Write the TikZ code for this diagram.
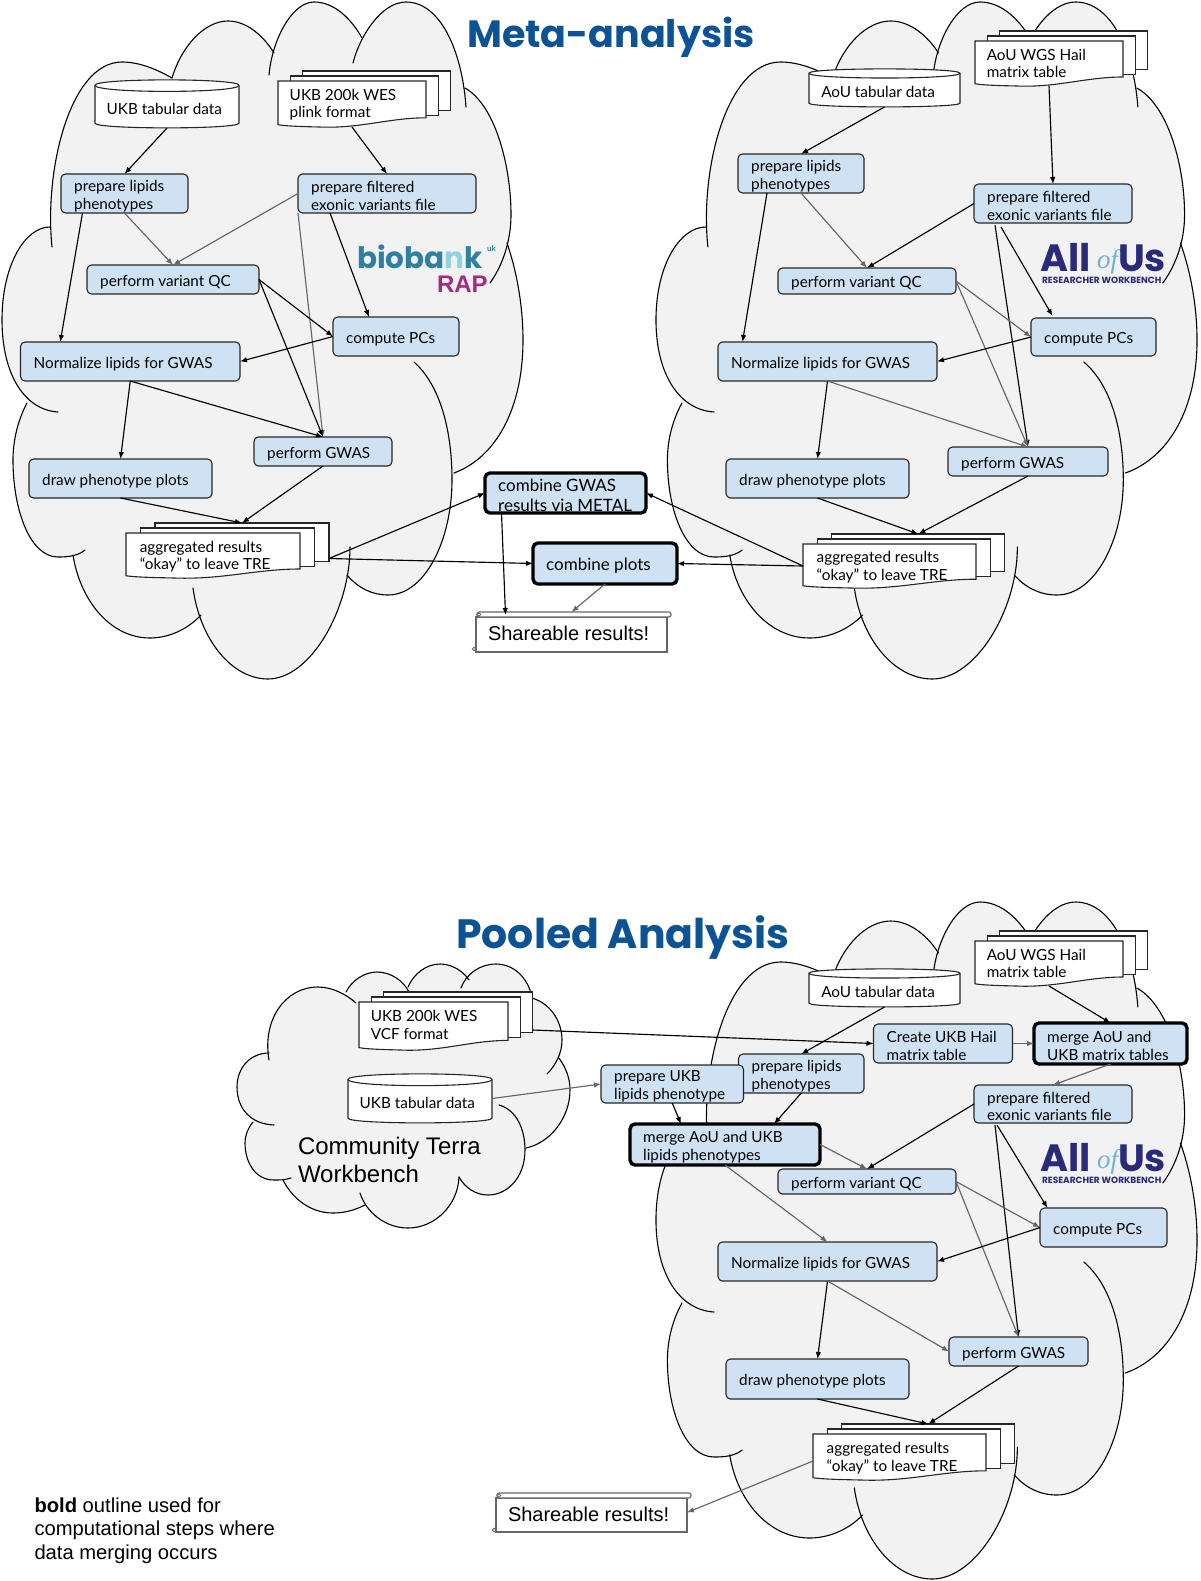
\documentclass[tikz,border=0pt]{standalone}
\usepackage{fontspec}
\usepackage{xcolor}
\usetikzlibrary{arrows.meta}
\setmainfont{Lato}
\newfontfamily\notefont{Liberation Sans}
\newfontfamily\titlefont{Poppins}
\newfontfamily\ofifont{Liberation Serif}
\definecolor{boxblue}{HTML}{CFE2F3}
\definecolor{cloudgrey}{HTML}{F2F2F2}
\definecolor{arrowgrey}{HTML}{666666}
\definecolor{titleblue}{HTML}{0B5394}
\definecolor{biobankteal}{HTML}{2F7FA3}
\definecolor{biobanklight}{HTML}{8FD3E0}
\definecolor{rapmagenta}{HTML}{A62A7E}
\definecolor{allofusnavy}{HTML}{2A2A78}
\definecolor{ofblue}{HTML}{6FB3DD}
\tikzset{
  cloudline/.style={line width=1.1pt, draw=black, line cap=round},
  cloudbg/.style={fill=cloudgrey},
  procstep/.style={draw=black!85, fill=boxblue, line width=1.1pt, rounded corners=4.5pt, anchor=north west,
    inner sep=0pt, outer sep=0pt},
  mergestep/.style={line width=3.4pt, draw=black, rounded corners=5pt},
  sheet/.style={draw=black!85, fill=white, line width=1.1pt, anchor=north west, inner sep=0pt, outer sep=0pt},
  hole/.style={inner sep=0pt, outer sep=0pt},
  inktext/.style={anchor=north west, align=left, inner sep=0pt, font=\fontsize{15.3}{17.7}\selectfont},
  steptext/.style={inktext, anchor=west},
  flowB/.style={-{Latex[length=7pt,width=5.5pt]}, line width=1.15pt, draw=black},
  flowG/.style={-{Latex[length=7pt,width=5.5pt]}, line width=1.15pt, draw=arrowgrey},
  scrollline/.style={draw=arrowgrey, fill=white, line width=1.1pt},
  heading/.style={anchor=base west, inner sep=0pt, text=titleblue}
}
% lobes of the large cloud
\def\lobeA{(52,247) .. controls (44,170) and (70,62) .. (122,62) .. controls (140,62) and (158,70) .. (172,78)}
\def\lobeB{(172,78) .. controls (182,45) and (205,21) .. (228,21) .. controls (248,21) and (265,38) .. (274,53)}
\def\lobeC{(269,75) .. controls (272,40) and (292,2) .. (314,2) .. controls (335,2) and (352,20) .. (362,38)}
\def\lobeD{(353,63) .. controls (360,35) and (382,2) .. (406,2) .. controls (440,2) and (462,50) .. (466,107)}
\def\lobeE{(465,88) .. controls (495,105) and (511,165) .. (511,215) .. controls (511,240) and (503,265) .. (490,283)}
\def\lobeF{(507,243) .. controls (518,275) and (523,310) .. (523,340) .. controls (523,410) and (495,458) .. (454,473)}
\def\lobeG{(414,362) .. controls (440,385) and (452,430) .. (452,480) .. controls (452,540) and (425,595) .. (388,595) .. controls (372,595) and (358,588) .. (347,575)}
\def\lobeH{(350,547) .. controls (350,610) and (310,679) .. (268,679) .. controls (232,679) and (200,640) .. (193,588)}
\def\lobeI{(201,615) .. controls (187,630) and (168,638) .. (150,638) .. controls (110,638) and (80,600) .. (73,555)}
\def\lobeJ{(85,550) .. controls (78,556) and (68,557) .. (58,557) .. controls (30,557) and (13,510) .. (13,460) .. controls (13,440) and (18,420) .. (27,403)}
\def\lobeK{(58,412) .. controls (25,410) and (2,375) .. (2,320) .. controls (2,265) and (25,227) .. (50,227)}
% lobes of the small cloud
\def\puffA{(274,1125) .. controls (250,1124) and (237,1108) .. (237,1087) .. controls (237,1068) and (250,1053) .. (269,1053)}
\def\puffB{(269,1060) .. controls (262,1020) and (285,987) .. (318,987) .. controls (333,987) and (347,995) .. (356,1003)}
\def\puffC{(346,992) .. controls (352,980) and (365,972) .. (377,972) .. controls (390,972) and (403,980) .. (409,992)}
\def\puffD{(408,987) .. controls (414,973) and (427,964) .. (440,964) .. controls (452,964) and (463,971) .. (469,980)}
\def\puffE{(461,988) .. controls (466,974) and (480,964) .. (496,964) .. controls (514,964) and (528,978) .. (532,997)}
\def\puffF{(532,998) .. controls (552,1004) and (562,1023) .. (562,1040) .. controls (562,1053) and (556,1065) .. (547,1074)}
\def\puffG{(559,1058) .. controls (566,1068) and (570,1078) .. (570,1090) .. controls (570,1118) and (550,1143) .. (526,1148)}
\def\puffH{(499,1105) .. controls (517,1110) and (525,1130) .. (525,1150) .. controls (525,1178) and (507,1195) .. (488,1195) .. controls (476,1195) and (465,1188) .. (459,1177)}
\def\puffI{(459,1177) .. controls (458,1205) and (435,1228) .. (408,1228) .. controls (385,1228) and (366,1212) .. (360,1193)}
\def\puffJ{(365,1205) .. controls (355,1210) and (345,1213) .. (333,1213) .. controls (310,1213) and (292,1198) .. (283,1180)}
\def\puffK{(291,1178) .. controls (285,1180) and (280,1180) .. (274,1180) .. controls (255,1180) and (245,1162) .. (245,1143) .. controls (245,1135) and (248,1128) .. (253,1122)}
\newcommand{\bigcloud}[3]{%
  \begin{scope}[shift={(#1,#2)},xscale=#3]
    \fill[cloudbg] \lobeA -- cycle \lobeB -- cycle \lobeC -- cycle \lobeD -- cycle \lobeE -- cycle \lobeF -- cycle
      \lobeG -- cycle \lobeH -- cycle \lobeI -- cycle \lobeJ -- cycle \lobeK -- cycle
      (50,227) -- (100,110) -- (172,78) -- (228,35) -- (272,53) -- (315,15) -- (358,42) -- (410,20) -- (466,90)
      -- (495,180) -- (503,255) -- (515,350) -- (456,470) -- (430,540) -- (347,575) -- (268,660) -- (197,608)
      -- (140,625) -- (77,556) -- (30,480) -- (27,403) -- (15,320) -- cycle;
    \foreach \lobe in {\lobeA,\lobeB,\lobeC,\lobeD,\lobeE,\lobeF,\lobeG,\lobeH,\lobeI,\lobeJ,\lobeK}
      \draw[cloudline] \lobe;
  \end{scope}}
% rounded process box: name, x, y, w, h, text
\newcommand{\procbox}[7][]{%
  \node[procstep, minimum width=#5pt, minimum height=#6pt, #1] (#2) at (#3,#4) {};
  \node[steptext, name=#2-t] at ({#3+13},{#4+#6/2+2.5}) {#7};}
% stack of three pages: name, x, y, w, h, text
\newcommand{\docstack}[6]{%
  \pgfmathsetmacro{\stepx}{#4/12}%
  \pgfmathsetmacro{\sheeth}{#5*0.85}%
  \node[sheet, minimum width=#4pt, minimum height=\sheeth pt] (#1-b) at ({#2+2*\stepx},#3-10) {};
  \node[sheet, minimum width=#4pt, minimum height=\sheeth pt] (#1-m) at ({#2+\stepx},#3-5) {};
  \begin{scope}[shift={(#2,#3)},x=#4pt,y=-#5pt]
    \draw[sheet] (0,0) -- (1,0) -- (1,.8) .. controls (.75,.8) and (.55,1.04) .. (.28,1) .. controls (.15,.99) and (.05,.98) .. (0,.95) -- cycle;
    \node[hole, minimum width=#4pt, minimum height=#5pt] (#1) at (.5,.5) {};
    \node[inktext, name=#1-t] at (.078,.17) {#6};
  \end{scope}}
% drum for tabular data: name, x, y, w, h, text
\newcommand{\datadrum}[6]{%
  \begin{scope}[shift={(#2,#3)},x=#4pt,y=-#5pt]
    \draw[sheet] (0,.11) .. controls (0,-.04) and (1,-.04) .. (1,.11) -- (1,.9) .. controls (1,1.03) and (0,1.03) .. (0,.9) -- cycle;
    \draw[sheet] (0,.11) .. controls (0,.28) and (1,.28) .. (1,.11);
    \node[hole, minimum width=#4pt, minimum height=#5pt] (#1) at (.5,.5) {};
    \node[inktext, anchor=west, name=#1-t] at (.08,.6) {#6};
  \end{scope}}
% scroll: name, x, y, w, h
\newcommand{\scrollnote}[5]{%
  \begin{scope}[shift={(#2,#3)}]
    \draw[scrollline] (0,5) rectangle (#4,#5);
    \draw[scrollline, rounded corners=2pt] (1,0) rectangle ({#4+4},5);
    \draw[scrollline, line width=.8pt] (3,2.5) circle (1.8);
    \draw[scrollline, line width=.8pt] (-2,37) circle (1.8);
    \node[hole, minimum width=#4pt, minimum height=#5pt] (#1) at ({#4/2},{#5/2}) {};
    \node[hole, anchor=west, font=\notefont\fontsize{20}{20}\selectfont, name=#1-t] at (12,21) {Shareable results!};
  \end{scope}}
\newcommand{\biobanklogo}{%
  \node[hole, anchor=base west, text=biobankteal, font=\titlefont\bfseries\fontsize{29.5}{30}\selectfont] (biobankword) at (357,268) {bioba\textcolor{biobanklight}{n}k};
  \node[hole, anchor=base west, text=biobankteal, font=\bfseries\fontsize{8}{8}\selectfont] (biobankuk) at (487,251) {uk};
  \node[hole, anchor=base west, text=rapmagenta, font=\notefont\bfseries\fontsize{24}{24}\selectfont] (rapword) at (437,292) {RAP};}
\newcommand{\allofuslogo}[1]{%
  \begin{scope}[shift={(0,#1)}]
    \node[hole, anchor=base west, text=allofusnavy, font=\titlefont\bfseries\fontsize{38}{38}\selectfont] (allword#1) at (1040,271) {All};
    \node[hole, anchor=base west, text=ofblue, font=\ofifont\itshape\fontsize{27}{27}\selectfont] (ofword#1) at (1097,268) {of};
    \node[hole, anchor=base west, text=allofusnavy, font=\titlefont\bfseries\fontsize{38}{38}\selectfont] (usword#1) at (1118,271) {Us};
    \node[hole, anchor=base west, text=allofusnavy, font=\titlefont\bfseries\fontsize{9}{9}\selectfont] (rwword#1) at (1042,283) {RESEARCHER WORKBENCH};
  \end{scope}}

\begin{document}
\begin{tikzpicture}[x=1pt,y=-1pt]
  \useasboundingbox (0,0) rectangle (1200,1581);

  \bigcloud{0}{0}{1}
  \bigcloud{653.9}{0}{1.0385}
  \bigcloud{653.9}{900}{1.0385}

  % small cloud
  \fill[cloudbg] \puffA -- cycle \puffB -- cycle \puffC -- cycle \puffD -- cycle \puffE -- cycle \puffF -- cycle
    \puffG -- cycle \puffH -- cycle \puffI -- cycle \puffJ -- cycle \puffK -- cycle
    (269,1053) -- (310,995) -- (346,995) -- (377,980) -- (408,988) -- (440,972) -- (465,980) -- (496,972) -- (532,997)
    -- (552,1040) -- (553,1070) -- (560,1100) -- (526,1148) -- (500,1180) -- (459,1177) -- (408,1218) -- (365,1205)
    -- (325,1205) -- (287,1180) -- (255,1150) -- (253,1122) -- (245,1087) -- cycle;
  \foreach \lobe in {\puffA,\puffB,\puffC,\puffD,\puffE,\puffF,\puffG,\puffH,\puffI,\puffJ,\puffK}
    \draw[cloudline] \lobe;

  \node[heading, font=\titlefont\bfseries\fontsize{38}{38}\selectfont] (metatitle) at (467,48) {Meta-analysis};
  \node[heading, font=\titlefont\bfseries\fontsize{41}{41}\selectfont] (pooledtitle) at (456,948) {Pooled Analysis};

  \biobanklogo
  \allofuslogo{0}
  \allofuslogo{900}

  % meta-analysis, UK Biobank
  \datadrum{ukbdata}{95}{80}{144}{48}{UKB tabular data}
  \docstack{ukbwes}{278}{81}{148}{46}{UKB 200k WES\\plink format}
  \procbox{ukblip}{61}{174}{127}{39}{prepare lipids\\phenotypes}
  \procbox{ukbfilt}{298}{174}{178}{39}{prepare filtered\\exonic variants file}
  \procbox{ukbqc}{87}{265}{172}{29}{perform variant QC}
  \procbox{ukbpcs}{333}{317}{126}{39}{compute PCs}
  \procbox{ukbnorm}{20.5}{342}{219.5}{39}{Normalize lipids for GWAS}
  \procbox{ukbgwas}{254}{437}{138}{29}{perform GWAS}
  \procbox{ukbdraw}{29}{459}{183}{39}{draw phenotype plots}
  \docstack{ukbagg}{126}{533}{174}{45}{aggregated results\\``okay'' to leave TRE}

  % meta-analysis, All of Us
  \datadrum{aoudata}{809}{69}{151}{38}{AoU tabular data}
  \docstack{aouwgs}{975}{41}{148}{45}{AoU WGS Hail\\matrix table}
  \procbox{aoulip}{738}{154}{126}{39}{prepare lipids\\phenotypes}
  \procbox{aoufilt}{974}{184}{158}{39}{prepare filtered\\exonic variants file}
  \procbox{aouqc}{778}{268}{178}{26}{perform variant QC}
  \procbox{aoupcs}{1031}{318}{125}{38}{compute PCs}
  \procbox{aounorm}{718}{342}{219}{39}{Normalize lipids for GWAS}
  \procbox{aougwas}{948}{447}{160}{29}{perform GWAS}
  \procbox{aoudraw}{726}{459}{183}{39}{draw phenotype plots}
  \docstack{aouagg}{803}{544}{173}{44}{aggregated results\\``okay'' to leave TRE}

  % combining steps
  \begin{scope}[steptext/.append style={font=\fontsize{17}{20}\selectfont}]
    \procbox[mergestep]{metal}{485}{473}{161}{40}{combine GWAS\\results via METAL}
    \procbox[mergestep]{plots}{533}{543}{144}{41}{combine plots}
  \end{scope}
  \scrollnote{sharemeta}{476}{612}{191}{40}

  \draw[flowB] (ukbdata.south) -- (ukblip.north);
  \draw[flowB] (ukbwes.south) -- (ukbfilt.north);
  \draw[flowG] (ukblip.south) -- (ukbqc.north);
  \draw[flowG] (ukbfilt.west) -- (ukbqc.north);
  \draw[flowB] ([xshift=-42pt]ukblip.south) -- ([xshift=-70pt]ukbnorm.north);
  \draw[flowB] ([xshift=-57pt]ukbfilt.south) -- ([xshift=-27pt]ukbpcs.north);
  \draw[flowG] (ukbfilt.south west) -- (ukbgwas.north);
  \draw[flowB] (ukbqc.east) -- (ukbpcs.west);
  \draw[flowB] (ukbqc.east) -- (ukbgwas.north);
  \draw[flowB] (ukbpcs.west) -- (ukbnorm.east);
  \draw[flowB] (ukbnorm.south) -- (ukbdraw.north);
  \draw[flowB] (ukbnorm.south) -- (ukbgwas.north);
  \draw[flowB] (ukbdraw.south) -- (ukbagg-b.north);
  \draw[flowB] (ukbgwas.south) -- (ukbagg-b.north);
  \draw[flowB] ([yshift=-3pt]ukbagg-b.east |- ukbagg.east) -- (metal.west);
  \draw[flowB] ([yshift=-3pt]ukbagg-b.east |- ukbagg.east) -- (plots.west);
  \draw[flowG] (plots.south) -- (sharemeta.north);
  \draw[flowB] ([xshift=-64pt]metal.south) -- ([xshift=-66pt,yshift=-3pt]sharemeta.north);

  \draw[flowB] (aoudata.south) -- (aoulip.north);
  \draw[flowB] (aouwgs.south) -- (aoufilt.north);
  \draw[flowG] (aoulip.south) -- (aouqc.north);
  \draw[flowB] ([xshift=-34pt]aoulip.south) -- ([xshift=-85pt]aounorm.north);
  \draw[flowB] (aoufilt.west) -- (aouqc.north);
  \draw[flowB] ([xshift=-52pt,yshift=-4pt]aoufilt.south) -- ([xshift=-41pt,yshift=2pt]aoupcs.north);
  \draw[flowB] ([xshift=-58pt,yshift=-2pt]aoufilt.south) -- (aougwas.north);
  \draw[flowG] (aouqc.east) -- (aoupcs.west);
  \draw[flowG] (aouqc.east) -- (aougwas.north);
  \draw[flowB] (aoupcs.west) -- (aounorm.east);
  \draw[flowB] (aounorm.south) -- (aoudraw.north);
  \draw[flowG] (aounorm.south) -- (aougwas.north);
  \draw[flowB] (aoudraw.south) -- (aouagg-b.north);
  \draw[flowB] (aougwas.south) -- (aouagg-b.north);
  \draw[flowB] (aouagg.west) -- (metal.east);
  \draw[flowB] (aouagg.west) -- (plots.east);

  % pooled analysis
  \datadrum{pooldata}{809}{969}{151}{38}{AoU tabular data}
  \docstack{poolwgs}{975}{941}{148}{45}{AoU WGS Hail\\matrix table}
  \docstack{termwes}{359}{1002}{149}{48}{UKB 200k WES\\VCF format}
  \datadrum{termdata}{348}{1074}{144}{49}{UKB tabular data}
  \node[hole, anchor=north west, align=left, font=\notefont\fontsize{24}{27.5}\selectfont] (termname) at (298,1137.5) {Community Terra\\Workbench};
  \procbox{hailbox}{873.5}{1024}{139}{39}{Create UKB Hail\\matrix table}
  \procbox[mergestep]{mergemt}{1034}{1023}{153}{41}{merge AoU and\\UKB matrix tables}
  \procbox{poollip}{738.5}{1054}{125.5}{39}{prepare lipids\\phenotypes}
  \procbox{ukbpheno}{601}{1065}{142.5}{38}{prepare UKB\\lipids phenotype}
  \procbox[mergestep]{mergelip}{630}{1124}{190}{41}{merge AoU and UKB\\lipids phenotypes}
  \procbox{poolfilt}{974}{1085}{158}{38}{prepare filtered\\exonic variants file}
  \procbox{poolqc}{778}{1169}{178}{25}{perform variant QC}
  \procbox{poolpcs}{1040}{1208}{127}{39}{compute PCs}
  \procbox{poolnorm}{718}{1242}{219}{39}{Normalize lipids for GWAS}
  \procbox{poolgwas}{949}{1337}{139}{29}{perform GWAS}
  \procbox{pooldraw}{726}{1359}{183}{40}{draw phenotype plots}
  \docstack{poolagg}{813}{1434}{173}{46}{aggregated results\\``okay'' to leave TRE}
  \scrollnote{sharepool}{496}{1493}{191}{39}

  \draw[flowB] ([yshift=-4pt]termwes-b.east |- termwes.east) -- (hailbox.west);
  \draw[flowG] (termdata.east) -- (ukbpheno.west);
  \draw[flowG] (hailbox.east) -- (mergemt.west);
  \draw[flowB] (poolwgs.south) -- (mergemt.north);
  \draw[flowG] (mergemt.south) -- (poolfilt.north);
  \draw[flowB] (pooldata.south) -- (poollip.north);
  \draw[flowB] (poollip.south) -- ([xshift=49pt]mergelip.north);
  \draw[flowB] (ukbpheno.south) -- ([xshift=-44pt]mergelip.north);
  \draw[flowG] (mergelip.east) -- (poolqc.north);
  \draw[flowB] (poolfilt.west) -- (poolqc.north);
  \draw[flowG] (mergelip.south) -- (poolnorm.north);
  \draw[flowB] ([xshift=-56pt,yshift=-2pt]poolfilt.south) -- ([xshift=-56pt]poolpcs.north);
  \draw[flowB] ([xshift=-58pt,yshift=-2pt]poolfilt.south) -- (poolgwas.north);
  \draw[flowG] (poolqc.east) -- (poolpcs.west);
  \draw[flowG] (poolqc.east) -- (poolgwas.north);
  \draw[flowB] (poolpcs.west) -- (poolnorm.east);
  \draw[flowB] (poolnorm.south) -- (pooldraw.north);
  \draw[flowG] (poolnorm.south) -- (poolgwas.west);
  \draw[flowB] (pooldraw.south) -- (poolagg-b.north);
  \draw[flowB] (poolgwas.south) -- (poolagg-b.north);
  \draw[flowG] ([yshift=-4pt]poolagg.west) -- (sharepool.east);

  \node[hole, anchor=north west, align=left, font=\notefont\fontsize{20.2}{23.7}\selectfont] (boldnote) at (34.5,1497.5)
    {\textbf{bold} outline used for\\computational steps where\\data merging occurs};
\end{tikzpicture}
\end{document}
